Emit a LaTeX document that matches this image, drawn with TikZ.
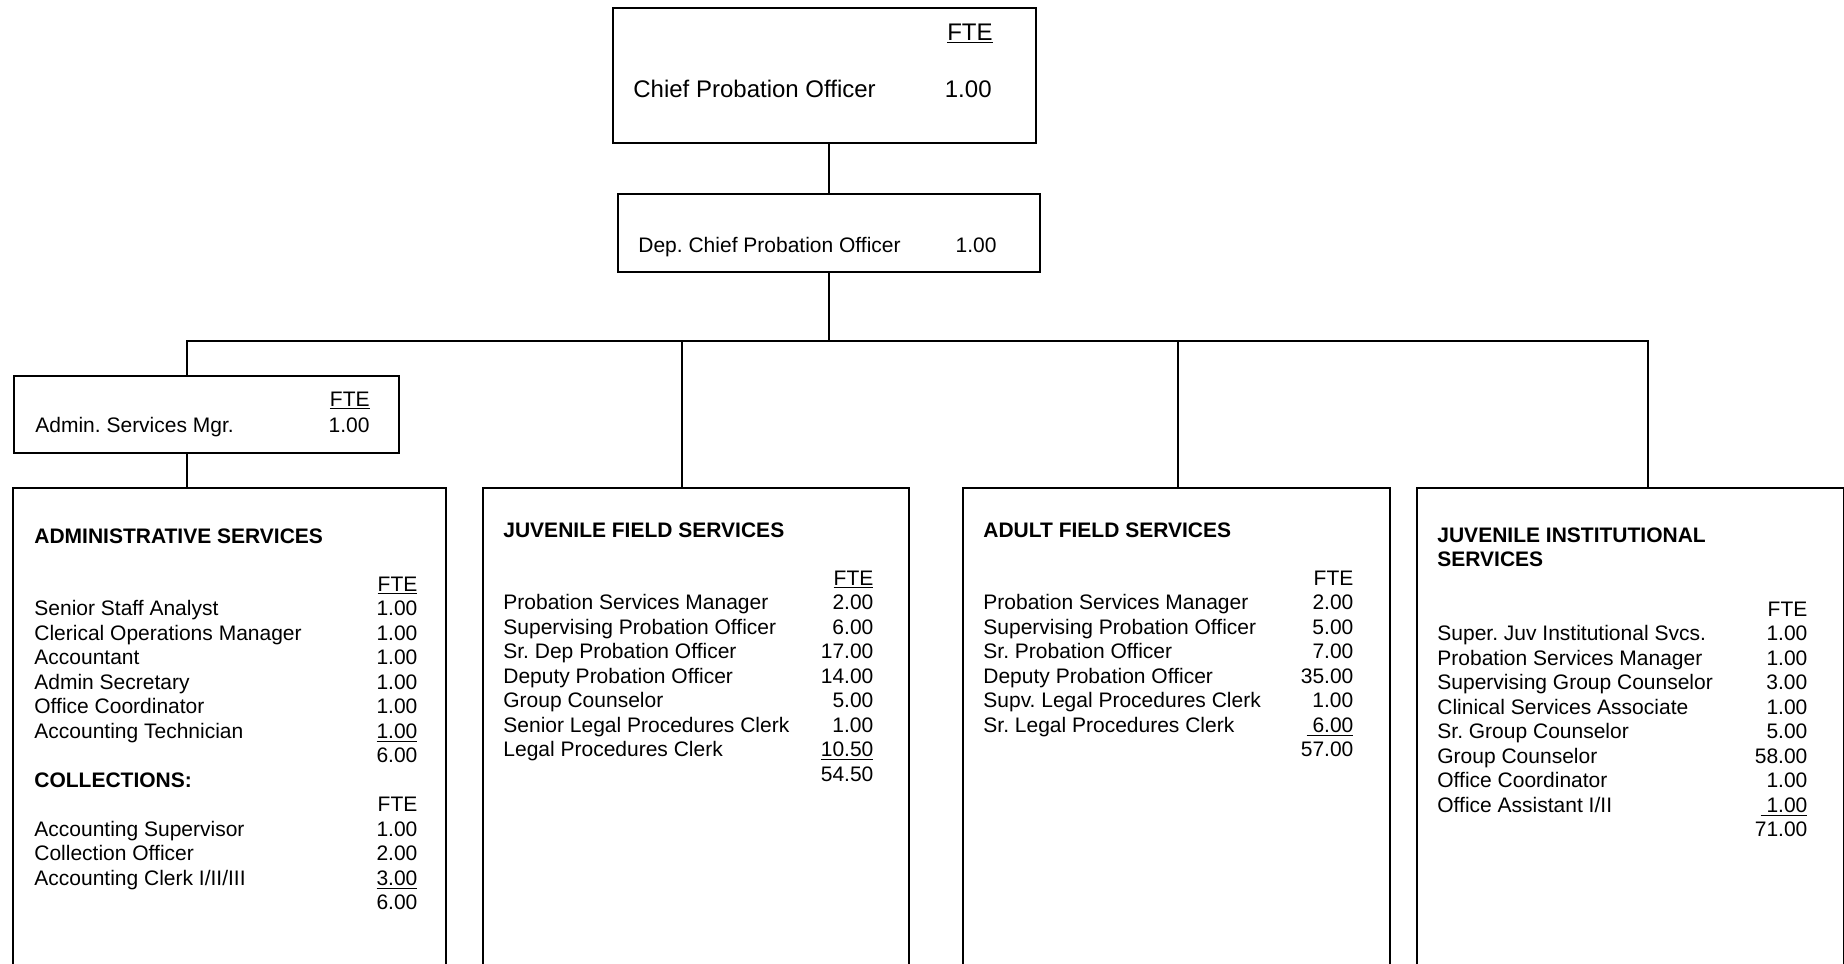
\documentclass[tikz,border=0pt]{standalone}
\usepackage{fontspec}
\setmainfont{Liberation Sans}
\usetikzlibrary{positioning}

\newcommand{\ftetab}[2]{\begin{tabular*}{#1}[t]{@{}l@{\extracolsep{\fill}}r@{}}#2\end{tabular*}}

\tikzset{
  orgbox/.style={draw, line width=1pt, inner sep=0pt, anchor=north west},
  link/.style={line width=1pt},
  rowtext/.style={inner sep=0pt, anchor=base west, align=left},
  numtext/.style={inner sep=0pt, anchor=base east},
}

\begin{document}
\frenchspacing
\begin{tikzpicture}[x=0.5pt, y=-0.5pt, font=\fontsize{10.5}{12.25}\selectfont]
  \useasboundingbox (0,0) rectangle (1844,964);
  \clip (0,0) rectangle (1844,964);

  % boxes
  \node[orgbox, minimum width=211.5pt, minimum height=67.5pt] (chief) at (612,7) {};
  \node[orgbox, minimum width=211pt, minimum height=39pt] (dep) at (617,193) {};
  \node[orgbox, minimum width=192.5pt, minimum height=38.5pt] (mgr) at (13,375) {};
  \node[orgbox, minimum width=216.5pt, minimum height=300pt] (adm) at (12,487) {};
  \node[orgbox, minimum width=213pt, minimum height=300pt] (jfs) at (482,487) {};
  \node[orgbox, minimum width=213.5pt, minimum height=300pt] (afs) at (962,487) {};
  \node[orgbox, minimum width=213.5pt, minimum height=300pt] (jis) at (1416,487) {};

  % connectors
  \coordinate (tapA) at (187,341);
  \coordinate (tapJ) at (682,341);
  \coordinate (tapF) at (1178,341);
  \coordinate (tapI) at (1648,341);
  \draw[link] (chief.south -| dep.north) -- (dep.north);
  \draw[link] (dep.south) -- (dep.south |- tapA);
  \draw[link] (tapA |- mgr.north) -- (tapA) -- (tapI) -- (tapI |- jis.north);
  \draw[link] (tapJ) -- (tapJ |- jfs.north);
  \draw[link] (tapF) -- (tapF |- afs.north);
  \draw[link] (tapA |- mgr.south) -- (tapA |- adm.north);

  % chief and deputy
  \node[numtext, font=\fontsize{12}{14}\selectfont] (chieffte) at (993,40) {\underline{FTE}};
  \node[rowtext, font=\fontsize{12}{14}\selectfont] (chiefname) at (633,97) {Chief Probation Officer};
  \node[numtext, font=\fontsize{12}{14}\selectfont] (chiefnum) at (992,97) {1.00};
  \node[rowtext] (depname) at (638,252) {Dep. Chief Probation Officer};
  \node[numtext] (depnum) at (997,252) {1.00};

  % admin services manager
  \node[numtext] (mgrfte) at (370,406) {\underline{FTE}};
  \node[rowtext] (mgrname) at (35,432) {Admin. Services Mgr.};
  \node[numtext] (mgrnum) at (370,432) {1.00};

  % administrative services
  \node[rowtext] (admtitle) at (34,543) {\textbf{ADMINISTRATIVE SERVICES}};
  \node[rowtext] (admrows) at (34,591) {\ftetab{191.5pt}{
    & \underline{FTE}\\
    Senior Staff Analyst & 1.00\\
    Clerical Operations Manager & 1.00\\
    Accountant & 1.00\\
    Admin Secretary & 1.00\\
    Office Coordinator & 1.00\\
    Accounting Technician & \underline{1.00}\\
    & 6.00\\
    \textbf{COLLECTIONS:} & \\
    & FTE\\
    Accounting Supervisor & 1.00\\
    Collection Officer & 2.00\\
    Accounting Clerk I/II/III & \underline{3.00}\\
    & 6.00}};

  % juvenile field services
  \node[rowtext] (jfstitle) at (503,537) {\textbf{JUVENILE FIELD SERVICES}};
  \node[rowtext] (jfsrows) at (503,585) {\ftetab{185pt}{
    & \underline{FTE}\\
    Probation Services Manager & 2.00\\
    Supervising Probation Officer & 6.00\\
    Sr. Dep Probation Officer & 17.00\\
    Deputy Probation Officer & 14.00\\
    Group Counselor & 5.00\\
    Senior Legal Procedures Clerk & 1.00\\
    Legal Procedures Clerk & \underline{10.50}\\
    & 54.50}};

  % adult field services
  \node[rowtext] (afstitle) at (983,537) {\textbf{ADULT FIELD SERVICES}};
  \node[rowtext] (afsrows) at (983,585) {\ftetab{185pt}{
    & FTE\\
    Probation Services Manager & 2.00\\
    Supervising Probation Officer & 5.00\\
    Sr. Probation Officer & 7.00\\
    Deputy Probation Officer & 35.00\\
    Supv. Legal Procedures Clerk & 1.00\\
    Sr. Legal Procedures Clerk & \underline{\ 6.00}\\
    & 57.00}};

  % juvenile institutional services
  \node[rowtext] (jistitle) at (1437,542)
    {\begin{tabular}[t]{@{}l@{}}\textbf{JUVENILE INSTITUTIONAL}\\\textbf{SERVICES}\end{tabular}};
  \node[rowtext] (jisrows) at (1437,616) {\ftetab{185pt}{
    & FTE\\
    Super. Juv Institutional Svcs. & 1.00\\
    Probation Services Manager & 1.00\\
    Supervising Group Counselor & 3.00\\
    Clinical Services Associate & 1.00\\
    Sr. Group Counselor & 5.00\\
    Group Counselor & 58.00\\
    Office Coordinator & 1.00\\
    Office Assistant I/II & \underline{\ 1.00}\\
    & 71.00}};
\end{tikzpicture}
\end{document}
